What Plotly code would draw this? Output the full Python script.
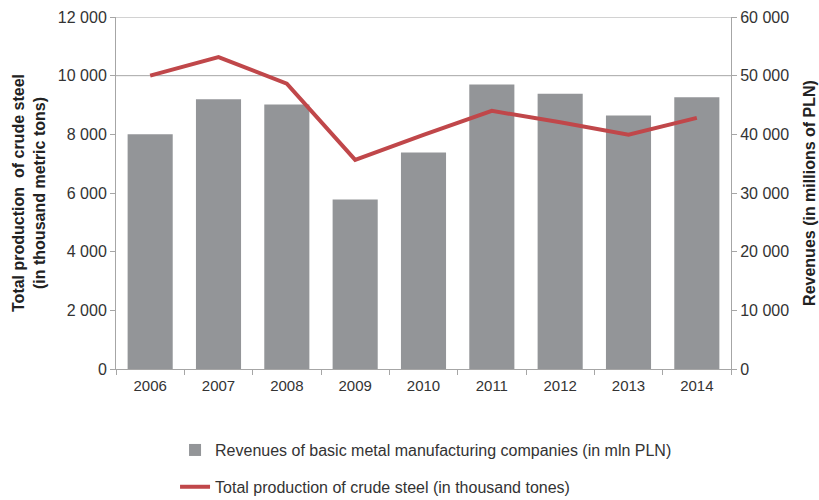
import plotly.graph_objects as go

years = ["2006", "2007", "2008", "2009", "2010", "2011", "2012", "2013", "2014"]
revenues = [40000, 46000, 45100, 28900, 36900, 48500, 46900, 43200, 46300]
production = [10000, 10630, 9730, 7130, 7980, 8800, 8410, 7990, 8560]
grid_levels = [10000, 12000]

bar_name = "Revenues of basic metal manufacturing companies (in mln PLN)"
line_name = "Total production of crude steel (in thousand tones)"

FONT = "Liberation Sans, Arial, sans-serif"
AXIS_COLOR = "#a6a6a6"
TXT = "#333333"

fig = go.Figure()
fig.add_trace(go.Bar(
    x=years, y=revenues, name=bar_name, yaxis="y",
    marker=dict(color="#939598", line=dict(width=0)),
    legendgroup="a",
))
fig.add_trace(go.Scatter(
    x=years, y=production, name=line_name, yaxis="y2", mode="lines",
    line=dict(color="#c0474a", width=4),
    legendgroup="b",
))

for g in grid_levels:
    fig.add_shape(type="line", xref="paper", x0=0, x1=1, yref="y2", y0=g, y1=g,
                  line=dict(color=AXIS_COLOR, width=1), layer="below")

fig.update_layout(
    width=819, height=500,
    margin=dict(l=116, r=88, t=17, b=131, autoexpand=False),
    plot_bgcolor="white", paper_bgcolor="white",
    font=dict(family=FONT, size=14, color=TXT),
    separators=". ",
    bargap=0.34,
    showlegend=True,
    legend=dict(orientation="v", x=0.096, xanchor="left", y=-0.182, yanchor="top",
                font=dict(size=16, color=TXT), tracegroupgap=13,
                itemwidth=30, bgcolor="rgba(0,0,0,0)"),
    xaxis=dict(
        type="category", showline=True, linecolor=AXIS_COLOR, linewidth=1,
        ticks="outside", tickson="boundaries", ticklen=5, tickcolor=AXIS_COLOR,
        showgrid=False, tickfont=dict(size=15, color=TXT), ticklabelstandoff=3,
    ),
    yaxis=dict(
        side="right", range=[0, 60000], dtick=10000, tickformat=",d",
        showline=True, linecolor=AXIS_COLOR, ticks="outside", ticklen=5,
        tickcolor=AXIS_COLOR, showgrid=False, zeroline=False,
        tickfont=dict(size=16, color=TXT),
        title=dict(text="<b>Revenues (in millions of PLN)</b>", font=dict(size=16, color="#222222"),
                   standoff=15),
    ),
    yaxis2=dict(
        side="left", overlaying="y", range=[0, 12000], dtick=2000, tickformat=",d",
        showline=True, linecolor=AXIS_COLOR, ticks="outside", ticklen=5,
        tickcolor=AXIS_COLOR, showgrid=False, zeroline=False,
        tickfont=dict(size=16, color=TXT),
        title=dict(text="<b>Total production  of crude steel<br>(in thousand metric tons)</b>",
                   font=dict(size=16, color="#222222"), standoff=8),
    ),
)

fig.write_html("out.html")
